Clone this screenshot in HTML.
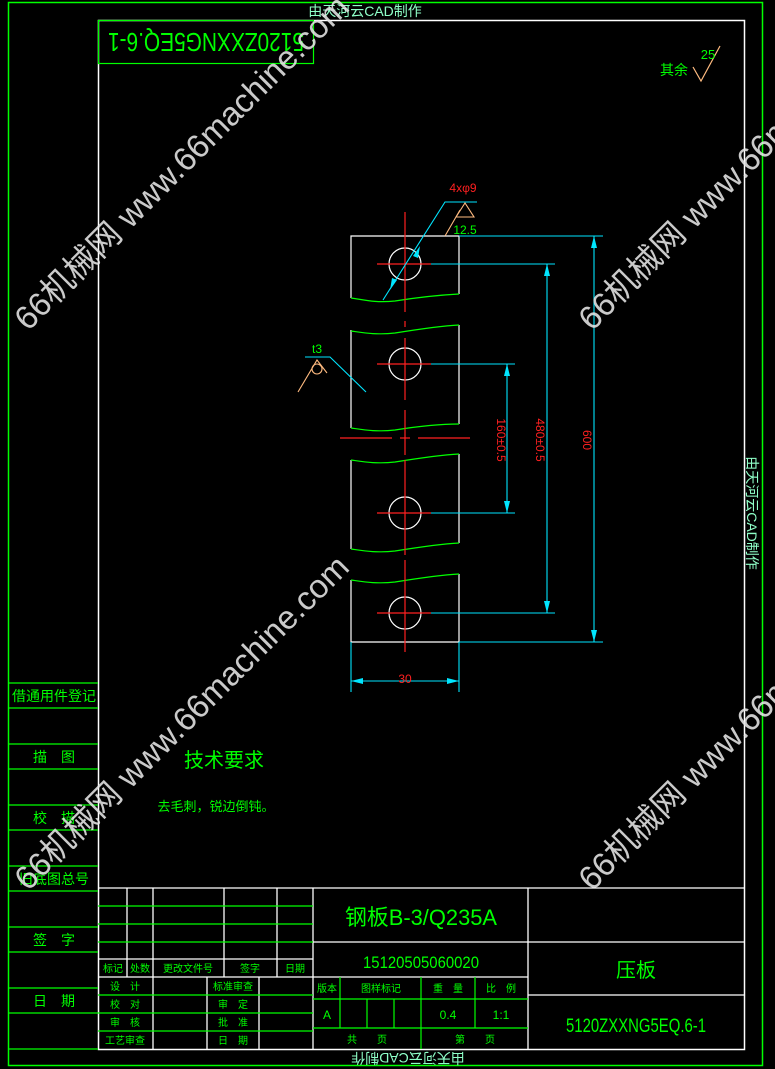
<!DOCTYPE html>
<html><head><meta charset="utf-8"><style>
html,body{margin:0;padding:0;background:#000;width:775px;height:1069px;overflow:hidden}
svg{display:block}
text{font-family:"Liberation Sans","Noto Sans CJK SC",sans-serif}
.g{fill:#00ff00}
.c{fill:#8fffc8}
.r{fill:#ff2020}
.wm{fill:#e6e6e6;fill-opacity:.88;font-size:33px;font-family:"Liberation Sans","Noto Sans CJK SC",sans-serif}
</style></head><body>
<svg width="775" height="1069" viewBox="0 0 775 1069" xmlns="http://www.w3.org/2000/svg">
<rect width="775" height="1069" fill="#000"/>
<rect x="8.5" y="2.5" width="754" height="1063" fill="none" stroke="#00ff00" stroke-width="1.5"/>
<rect x="98.5" y="20.5" width="646" height="1029" fill="none" stroke="#fff" stroke-width="1.5"/>
<rect x="98.5" y="20.5" width="215" height="43" fill="none" stroke="#00ff00" stroke-width="1.2"/>
<text class="g" font-size="26" transform="translate(206,42) rotate(180)" text-anchor="middle" dominant-baseline="central" textLength="196" lengthAdjust="spacingAndGlyphs">5120ZXXNG5EQ.6-1</text>
<text class="c" font-size="14" x="365" y="16" text-anchor="middle">由天河云CAD制作</text>
<text class="c" font-size="14" transform="translate(752,513) rotate(90)" text-anchor="middle" dominant-baseline="central">由天河云CAD制作</text>
<text class="c" font-size="14" transform="translate(408,1058) rotate(180)" text-anchor="middle" dominant-baseline="central">由天河云CAD制作</text>
<g stroke="#00ff00" stroke-width="1.2">
<line x1="8" y1="683" x2="98" y2="683"/><line x1="8" y1="708" x2="98" y2="708"/>
<line x1="8" y1="744" x2="98" y2="744"/><line x1="8" y1="769" x2="98" y2="769"/>
<line x1="8" y1="805" x2="98" y2="805"/><line x1="8" y1="830" x2="98" y2="830"/>
<line x1="8" y1="866" x2="98" y2="866"/><line x1="8" y1="891" x2="98" y2="891"/>
<line x1="8" y1="927" x2="98" y2="927"/><line x1="8" y1="952" x2="98" y2="952"/>
<line x1="8" y1="988" x2="98" y2="988"/><line x1="8" y1="1013" x2="98" y2="1013"/>
<line x1="8" y1="1049" x2="98" y2="1049"/>
</g>
<g class="g" font-size="14" text-anchor="middle">
<text x="54" y="701">借通用件登记</text>
<text x="54" y="762">描　图</text>
<text x="54" y="823">校　描</text>
<text x="54" y="884">旧底图总号</text>
<text x="54" y="945">签　字</text>
<text x="54" y="1006">日　期</text>
</g>
<text class="g" font-size="20" x="224" y="767" text-anchor="middle">技术要求</text>
<text class="g" font-size="13" x="216" y="811" text-anchor="middle">去毛刺，锐边倒钝。</text>
<text class="g" font-size="14" x="674" y="75" text-anchor="middle">其余</text>
<polyline points="693,67 701,81 720,46" fill="none" stroke="#ffbb80" stroke-width="1.2"/>
<text class="g" font-size="13" x="708" y="59" text-anchor="middle">25</text>
<g stroke="#fff" stroke-width="1.3" fill="none">
<line x1="98" y1="888" x2="745" y2="888"/>
<line x1="127" y1="888" x2="127" y2="977"/><line x1="153" y1="888" x2="153" y2="1049"/>
<line x1="224" y1="888" x2="224" y2="977"/><line x1="277" y1="888" x2="277" y2="977"/>
<line x1="313" y1="888" x2="313" y2="1049"/><line x1="528" y1="888" x2="528" y2="1049"/>
<line x1="98" y1="959" x2="313" y2="959"/><line x1="98" y1="977" x2="528" y2="977"/>
<line x1="207" y1="977" x2="207" y2="1049"/><line x1="259" y1="977" x2="259" y2="1049"/>
<line x1="313" y1="942" x2="745" y2="942"/><line x1="528" y1="995" x2="745" y2="995"/>
</g>
<g stroke="#00ff00" stroke-width="1.2" fill="none">
<line x1="98" y1="906" x2="313" y2="906"/><line x1="98" y1="924" x2="313" y2="924"/><line x1="98" y1="942" x2="313" y2="942"/>
<line x1="98" y1="995" x2="313" y2="995"/><line x1="98" y1="1013" x2="313" y2="1013"/><line x1="98" y1="1031" x2="313" y2="1031"/>
<line x1="313" y1="999" x2="528" y2="999"/><line x1="313" y1="1028" x2="528" y2="1028"/>
<line x1="340" y1="977" x2="340" y2="1028"/><line x1="367" y1="999" x2="367" y2="1028"/>
<line x1="394" y1="999" x2="394" y2="1028"/><line x1="421" y1="977" x2="421" y2="1049"/>
<line x1="475" y1="977" x2="475" y2="1028"/>
</g>
<g class="g" font-size="10" text-anchor="middle">
<text x="113" y="972">标记</text><text x="140" y="972">处数</text><text x="188" y="972">更改文件号</text>
<text x="250" y="972">签字</text><text x="295" y="972">日期</text>
<text x="125" y="990">设　计</text><text x="125" y="1008">校　对</text><text x="125" y="1026">审　核</text><text x="125" y="1044">工艺审查</text>
<text x="233" y="990">标准审查</text><text x="233" y="1008">审　定</text><text x="233" y="1026">批　准</text><text x="233" y="1044">日　期</text>
<text x="327" y="992">版本</text><text x="381" y="992">图样标记</text><text x="448" y="992">重　量</text><text x="501" y="992">比　例</text>
<text x="367" y="1043">共　　页</text><text x="475" y="1043">第　　页</text>
</g>
<g class="g" text-anchor="middle">
<text font-size="12" x="327" y="1019">A</text><text font-size="12" x="448" y="1019">0.4</text><text font-size="12" x="501" y="1019">1:1</text>
<text font-size="22" x="421" y="925" textLength="152" lengthAdjust="spacingAndGlyphs">钢板B-3/Q235A</text>
<text font-size="17" x="421" y="968" textLength="116" lengthAdjust="spacingAndGlyphs">15120505060020</text>
<text font-size="20" x="636" y="977">压板</text>
<text font-size="19" x="636" y="1032" textLength="140" lengthAdjust="spacingAndGlyphs">5120ZXXNG5EQ.6-1</text>
</g>
<g stroke="#fff" stroke-width="1.2" fill="none">
<polyline points="351,298 351,236 459,236 459,294"/>
<polyline points="351,330 351,428"/><polyline points="459,325 459,424"/>
<polyline points="351,460 351,549"/><polyline points="459,454 459,543"/>
<polyline points="351,580 351,642 459,642 459,574"/>
<circle cx="405" cy="264" r="16"/><circle cx="405" cy="364" r="16"/>
<circle cx="405" cy="513" r="16"/><circle cx="405" cy="613" r="16"/>
</g>
<g stroke="#00ff00" stroke-width="1.2" fill="none">
<path d="M351,298 C365,300 375,303 395,301 C420,297 440,295 459,294"/>
<path d="M351,331 C365,333 375,335 395,333 C420,329 440,326 459,325"/>
<path d="M351,428 C365,430 375,432 395,430 C420,426 440,424 459,424"/>
<path d="M351,460 C365,462 375,464 395,462 C420,458 440,455 459,454"/>
<path d="M351,549 C365,551 375,553 395,551 C420,547 440,544 459,543"/>
<path d="M351,580 C365,582 375,584 395,582 C420,578 440,575 459,574"/>
</g>
<g stroke="#ff2020" stroke-width="1.2" fill="none">
<line x1="405" y1="212" x2="405" y2="312"/><line x1="405" y1="321" x2="405" y2="327"/>
<line x1="405" y1="338" x2="405" y2="400"/><line x1="405" y1="410" x2="405" y2="455"/>
<line x1="405" y1="460" x2="405" y2="555"/><line x1="405" y1="560" x2="405" y2="652"/>
<line x1="377" y1="264" x2="431" y2="264"/><line x1="377" y1="364" x2="431" y2="364"/>
<line x1="377" y1="513" x2="431" y2="513"/><line x1="377" y1="613" x2="431" y2="613"/>
<line x1="340" y1="438" x2="392" y2="438"/><line x1="400" y1="438" x2="410" y2="438"/><line x1="418" y1="438" x2="470" y2="438"/>
</g>
<g stroke="#00e5ff" stroke-width="1.1" fill="none">
<line x1="459" y1="236" x2="603" y2="236"/><line x1="459" y1="642" x2="603" y2="642"/>
<line x1="594" y1="236" x2="594" y2="642"/>
<line x1="431" y1="264" x2="555" y2="264"/><line x1="431" y1="613" x2="555" y2="613"/>
<line x1="547" y1="264" x2="547" y2="613"/>
<line x1="431" y1="364" x2="515" y2="364"/><line x1="431" y1="513" x2="515" y2="513"/>
<line x1="507" y1="364" x2="507" y2="513"/>
<line x1="351" y1="642" x2="351" y2="692"/><line x1="459" y1="642" x2="459" y2="692"/>
<line x1="351" y1="681" x2="459" y2="681"/>
<polyline points="383,300 445,202 477,202"/>
<polyline points="305,357 330,357 366,392"/>
</g>
<g fill="#00e5ff">
<polygon points="594,236 591,248 597,248"/><polygon points="594,642 591,630 597,630"/>
<polygon points="547,264 544,276 550,276"/><polygon points="547,613 544,601 550,601"/>
<polygon points="507,364 504,376 510,376"/><polygon points="507,513 504,501 510,501"/>
<polygon points="351,681 363,678 363,684"/><polygon points="459,681 447,678 447,684"/>
<polygon points="420,246 413,256 418,258"/><polygon points="390,290 397,280 392,278"/>
</g>
<g class="r" text-anchor="middle" font-size="12">
<text transform="translate(583,440) rotate(90)">600</text>
<text transform="translate(536,440) rotate(90)">480±0.5</text>
<text transform="translate(497,440) rotate(90)">160±0.5</text>
<text x="405" y="683">30</text>
<text x="463" y="192">4xφ9</text>
</g>
<g stroke="#ffbb80" stroke-width="1.1" fill="none">
<polyline points="456,217 465,203 474,217 456,217"/>
<line x1="445" y1="236" x2="460" y2="210"/>
<polyline points="298,392 317,360 327,373"/>
<circle cx="317" cy="369" r="5"/>
</g>
<text class="g" font-size="12" x="465" y="234" text-anchor="middle">12.5</text>
<text class="g" font-size="12" x="317" y="353" text-anchor="middle">t3</text>
<g class="wm">
<text transform="translate(28,332) rotate(-45)">66机械网 www.66machine.com</text>
<text transform="translate(28,892) rotate(-45)">66机械网 www.66machine.com</text>
<text transform="translate(592,332) rotate(-45)">66机械网 www.66machine.com</text>
<text transform="translate(592,892) rotate(-45)">66机械网 www.66machine.com</text>
</g>
</svg>
</body></html>
